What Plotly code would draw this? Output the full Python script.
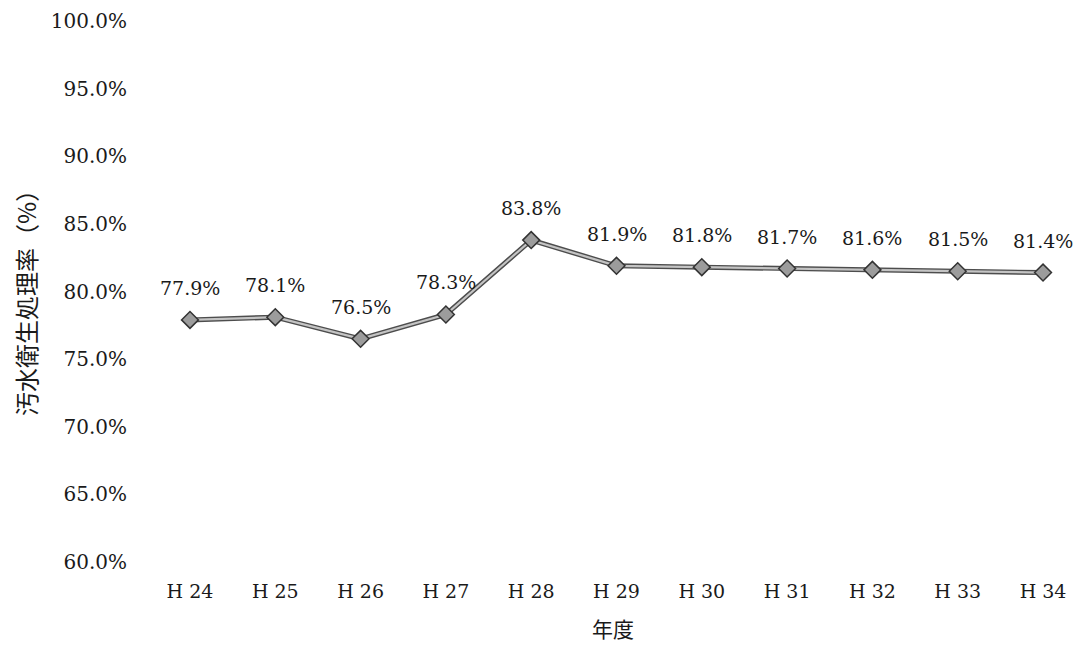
import plotly.graph_objects as go

# 年度別 汚水衛生処理率（実績・計画）
years = ["H 24", "H 25", "H 26", "H 27", "H 28", "H 29", "H 30", "H 31", "H 32", "H 33", "H 34"]
rates = [77.9, 78.1, 76.5, 78.3, 83.8, 81.9, 81.8, 81.7, 81.6, 81.5, 81.4]
y_ticks = [60, 65, 70, 75, 80, 85, 90, 95, 100]
y_tick_labels = [f"{t:.1f}%" for t in y_ticks]

serif = "DejaVu Serif"
jp = "Noto Sans CJK JP"
ink = "#1a1a1a"

fig = go.Figure()

# dark outline under the line to give the doubled-stroke look
fig.add_trace(go.Scatter(
    x=years, y=rates, mode="lines",
    line=dict(color="#4d4d4d", width=5),
    hoverinfo="skip", showlegend=False,
))
fig.add_trace(go.Scatter(
    x=years, y=rates, mode="lines+markers",
    line=dict(color="#c4c4c4", width=2.2),
    marker=dict(symbol="diamond", size=13, color="#9c9c9c",
                line=dict(color="#333333", width=1.5)),
    showlegend=False,
))

# value labels above each point
for yr, v in zip(years, rates):
    fig.add_annotation(
        x=yr, y=v, text=f"{v:.1f}%", showarrow=False,
        yshift=32, font=dict(family=serif, size=19, color=ink),
    )

# vertical axis title
fig.add_annotation(
    xref="paper", yref="paper", x=0, y=0.49,
    text="汚水衛生処理率（%）", textangle=-90, showarrow=False,
    xanchor="center", yanchor="middle", xshift=-114,
    font=dict(family=jp, size=24, color=ink),
)

# horizontal axis title
fig.add_annotation(
    xref="paper", yref="paper", x=0.512, y=0,
    text="年度", showarrow=False,
    xanchor="center", yanchor="middle", yshift=-66,
    font=dict(family=jp, size=21, color=ink),
)

fig.update_layout(
    width=1084, height=646,
    margin=dict(l=140, r=20, t=21, b=84),
    paper_bgcolor="white", plot_bgcolor="white",
    xaxis=dict(
        type="category", range=[-0.586, 10.246], automargin=False,
        showgrid=False, zeroline=False, showline=False,
        ticks="outside", ticklen=12, tickcolor="rgba(0,0,0,0)",
        tickfont=dict(family=serif, size=19, color=ink),
    ),
    yaxis=dict(
        range=[60, 100], tickvals=y_ticks, ticktext=y_tick_labels, automargin=False,
        showgrid=False, zeroline=False, showline=False,
        ticks="outside", ticklen=8, tickcolor="rgba(0,0,0,0)",
        tickfont=dict(family=serif, size=20, color=ink),
    ),
)

fig.write_html("out.html")
